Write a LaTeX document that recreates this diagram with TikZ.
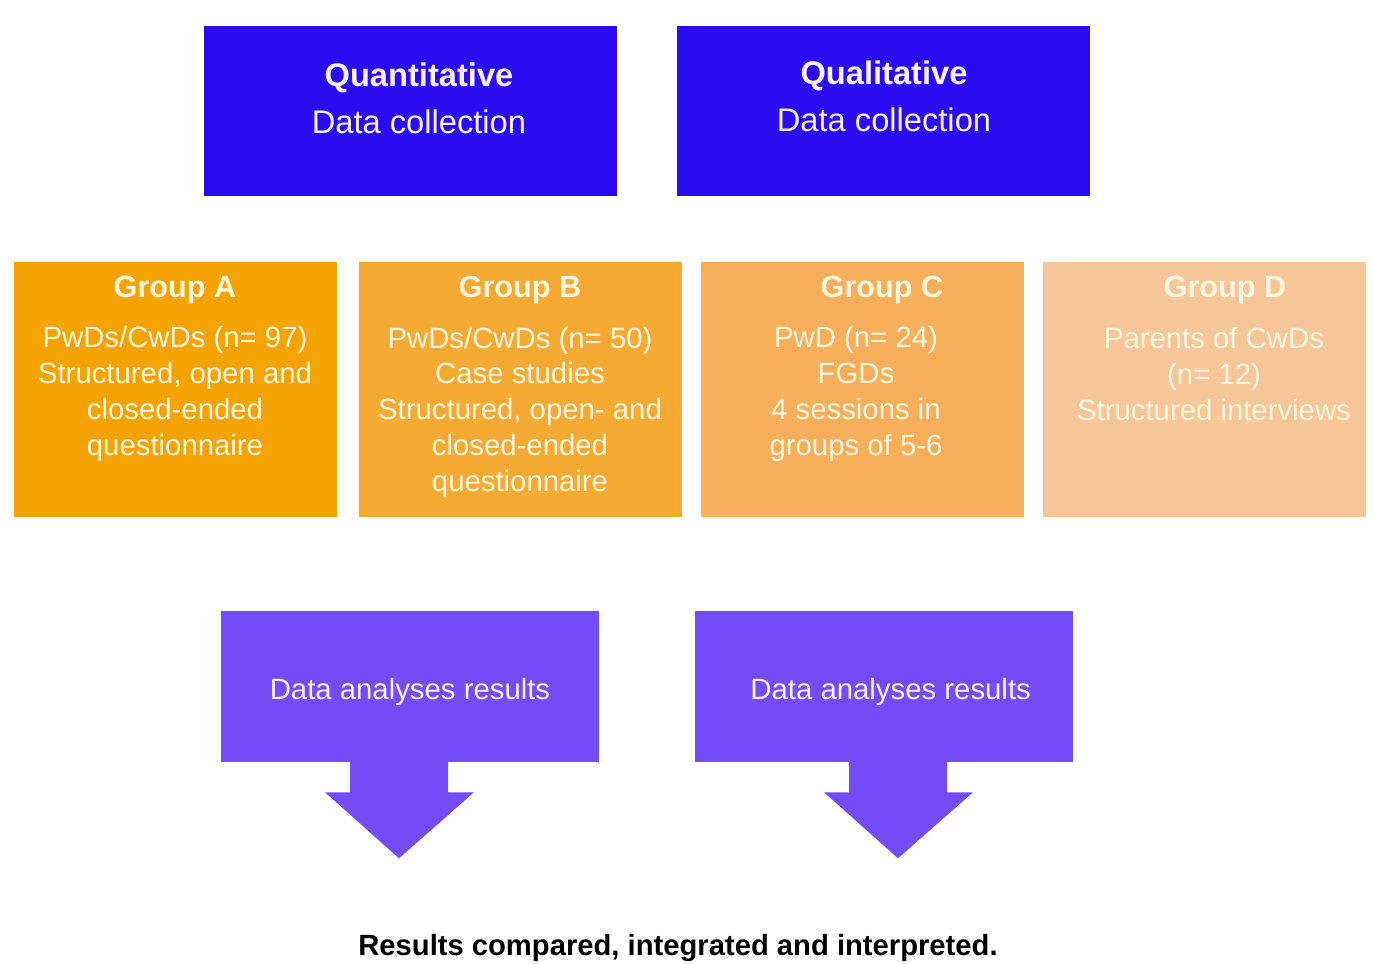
\documentclass[tikz,border=0pt]{standalone}
\usepackage{fontspec}
\setmainfont{Liberation Sans}
\usepackage{xcolor}
\usepackage{tikz}
\usetikzlibrary{positioning}

\definecolor{collblue}{RGB}{44,10,240}
\definecolor{resviolet}{RGB}{116,76,245}
\definecolor{grpA}{RGB}{245,163,0}
\definecolor{grpB}{RGB}{245,170,52}
\definecolor{grpC}{RGB}{247,175,91}
\definecolor{grpD}{RGB}{247,199,154}
\definecolor{cream}{RGB}{255,246,222}
\definecolor{lilac}{RGB}{246,240,255}

\tikzset{
  collbox/.style={fill=collblue, minimum width=413*0.75pt, minimum height=170*0.75pt, inner sep=0pt},
  colltext/.style={align=center, text=lilac, inner sep=0pt, font=\fontsize{24.5}{35}\selectfont},
  grpbox/.style={minimum width=323*0.75pt, minimum height=255*0.75pt, inner sep=0pt},
  grptitle/.style={text=cream, inner sep=0pt, font=\fontsize{23}{27}\selectfont\bfseries},
  grptext/.style={align=center, text=cream, inner sep=0pt, font=\fontsize{22}{26.8}\selectfont},
  resbox/.style={fill=resviolet, minimum width=378*0.75pt, minimum height=151*0.75pt, inner sep=0pt,
    text=lilac, text height=23.5pt, text depth=4.6pt, font=\fontsize{22}{27}\selectfont}
}

\begin{document}
\begin{tikzpicture}[x=0.75pt,y=-0.75pt]
\fill[white] (0,0) rectangle (1373,963);
\useasboundingbox (0,0) rectangle (1373,963);

\node[collbox]		(quant) at (410.5,111)	{};
\node[colltext]		(quanttxt) at (419,98)	{\textbf{Quantitative}\\Data collection};
\node[collbox]		(qual) at (883.5,111)	{};
\node[colltext]		(qualtxt) at (884,96)	{\textbf{Qualitative}\\Data collection};

\node[grpbox, fill=grpA]	(grpa) at (175,389.5)	{};
\node[grpbox, fill=grpB]	(grpb) at (520.5,389.5)	{};
\node[grpbox, fill=grpC]	(grpc) at (862,389.5)	{};
\node[grpbox, fill=grpD]	(grpd) at (1204.5,389.5)	{};

\node[grptitle]	(grpatitle) at (175,290)	{Group A};
\node[grptitle]	(grpbtitle) at (520,290)	{Group B};
\node[grptitle]	(grpctitle) at (882,290)	{Group C};
\node[grptitle]	(grpdtitle) at (1225,290)	{Group D};

\node[grptext]	(grpatext) at (175,394)	{PwDs/CwDs (n= 97)\\Structured, open and\\closed-ended\\questionnaire};
\node[grptext]	(grpbtext) at (520,412)	{PwDs/CwDs (n= 50)\\Case studies\\Structured, open- and\\closed-ended\\questionnaire};
\node[grptext]	(grpctext) at (856,394)	{PwD (n= 24)\\FGDs\\4 sessions in\\groups of 5-6};
\node[grptext]	(grpdtext) at (1214,374)	{Parents of CwDs\\(n= 12)\\Structured interviews};

\node[resbox]	(quantres) at (410,686.5)	{Data analyses results};
\node[resbox]	(qualres) at (884,686.5)	{\hspace{10pt}Data analyses results};

\fill[resviolet] (quantres.south) ++(-60,-1) -- ++(0,31) -- ++(-25,0) -- ++(74,66)
  -- ++(75,-66) -- ++(-26,0) -- ++(0,-31) -- cycle;
\fill[resviolet] (qualres.south) ++(-35,-1) -- ++(0,31) -- ++(-25,0) -- ++(74,66)
  -- ++(75,-66) -- ++(-26,0) -- ++(0,-31) -- cycle;

\node[font=\fontsize{21.9}{26}\selectfont\bfseries, inner sep=0pt]	(concl) at (678,948)	{Results compared, integrated and interpreted.};
\end{tikzpicture}
\end{document}
